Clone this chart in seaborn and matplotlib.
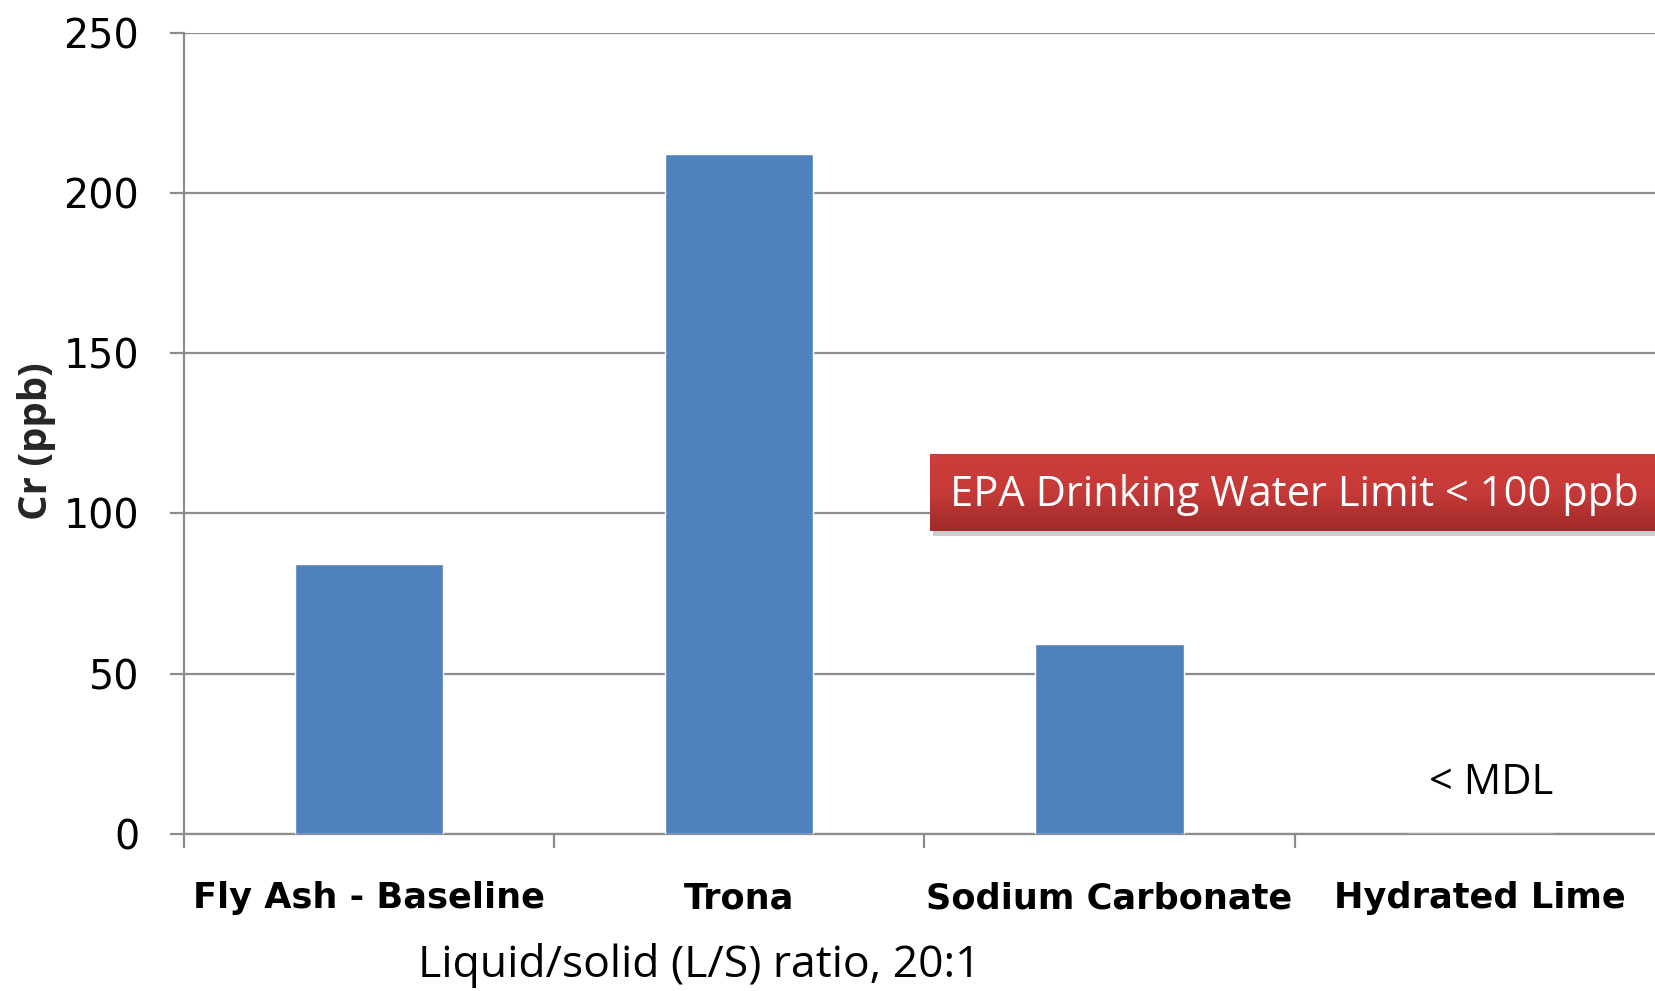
import matplotlib
matplotlib.use("Agg")
import matplotlib.pyplot as plt
import seaborn as sns
import numpy as np
import pandas as pd
from matplotlib.patches import Rectangle
from matplotlib.colors import LinearSegmentedColormap

categories = ["Fly Ash - Baseline", "Trona", "Sodium Carbonate", "Hydrated Lime"]
cr_ppb = [84.3, 212.1, 59.3, 0.0]
y_ticks = [0, 50, 100, 150, 200, 250]
epa_text = "EPA Drinking Water Limit < 100 ppb"
mdl_text = "< MDL"
x_label = "Liquid/solid (L/S) ratio, 20:1"
y_label = "Cr (ppb)"

df = pd.DataFrame({"category": categories, "cr": cr_ppb})

sns.set_theme(style="white")
plt.rcParams['font.family'] = ['DejaVu Sans']

W, H = 1655, 991
fig = plt.figure(figsize=(W / 100, H / 100), dpi=100)
left, right = 183.7 / W, 1665 / W
bottom, top = 1 - 833.9 / H, 1 - 32.7 / H
ax = fig.add_axes([left, bottom, right - left, top - bottom])

sns.barplot(data=df, x="category", y="cr", color="#4f81bd", width=0.4,
            saturation=1, ax=ax, zorder=3)

ax.set_xlim(-0.5, 3.5)
ax.set_ylim(0, 250)
ax.set_yticks(y_ticks)
ax.set_yticklabels([str(v) for v in y_ticks], fontsize=28.5, color="black")
ax.yaxis.grid(True, color="#8c8c8c", linewidth=1.6, zorder=0)
ax.set_axisbelow(True)
for s in ["top", "right"]:
    ax.spines[s].set_visible(False)
for s in ["left", "bottom"]:
    ax.spines[s].set_color("#8c8c8c")
    ax.spines[s].set_linewidth(1.6)
ax.tick_params(axis="y", which="major", length=10, width=1.6, color="#8c8c8c",
               direction="out", left=True, pad=22)
ax.set_xticks(range(len(categories)))
ax.set_xticklabels(categories, fontsize=25.3, fontweight="bold", color="black")
ax.tick_params(axis="x", which="major", length=0, pad=34)
ax.set_xticks([-0.5, 0.5, 1.5, 2.5], minor=True)
ax.tick_params(axis="x", which="minor", length=10, width=1.6, color="#8c8c8c",
               direction="out", bottom=True)
ax.set_xlabel("")
ax.set_ylabel("")
fig.text(699 / W, 1 - 966 / H, x_label, fontsize=32,
         family=["Open Sans", "DejaVu Sans"], ha="center", va="center", color="black")
fig.text(37 / W, 1 - 441 / H, y_label, rotation=90, fontsize=29, fontweight="bold",
         family=["Open Sans", "DejaVu Sans"], ha="center", va="center")

ax.text(3.03, 16, mdl_text, fontsize=30, family=["Open Sans", "DejaVu Sans"],
        ha="center", va="center", color="black")

# EPA box with gradient and shadow
bx0, bx1 = 930 / W, 1.0
by0, by1 = 1 - 531 / H, 1 - 454 / H
shadow = Rectangle((bx0 + 3 / W, by0 - 5 / H), bx1 - bx0, by1 - by0,
                   transform=fig.transFigure, facecolor="#000000", alpha=0.2,
                   edgecolor="none", zorder=5)
fig.patches.append(shadow)
bax = fig.add_axes([bx0, by0, bx1 - bx0, by1 - by0], zorder=6)
grad = np.linspace(0, 1, 100).reshape(-1, 1)
cmap = LinearSegmentedColormap.from_list("r", ["#cd3d3b", "#c53a38", "#9f2a29"])
bax.imshow(grad, aspect="auto", cmap=cmap, extent=[0, 1, 0, 1], origin="upper")
bax.set_axis_off()
bax.text(0.027, 0.47, epa_text, color="white", fontsize=30,
         family=["Open Sans", "DejaVu Sans"], ha="left", va="center",
         transform=bax.transAxes)

fig.savefig("out.png", dpi=100)
